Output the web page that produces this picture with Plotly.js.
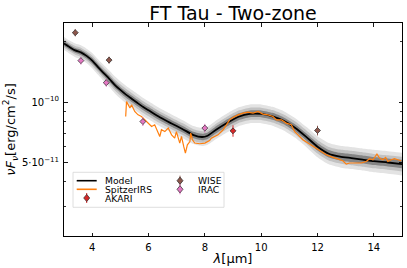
<!DOCTYPE html>
<html>
<head>
<meta charset="utf-8">
<script src="https://cdn.plot.ly/plotly-3.0.1.min.js"></script>
<style>html,body{margin:0;padding:0;background:#fff}</style>
</head>
<body>
<div id="plot" style="width:407px;height:268px"></div>
<script>
// ---- Model (best fit) ----
const modelX = [3.0,3.2,3.4,3.6,3.8,4.0,4.2,4.4,4.6,4.8,5.0,5.2,5.4,5.6,5.8,6.0,6.4,6.8,7.2,7.6,7.9,8.1,8.4,8.8,9.2,9.6,10.0,10.4,10.8,11.2,11.6,12.0,12.4,12.8,13.2,13.6,14.0,14.5,15.0];
const modelY = [1.96e-10,1.88e-10,1.81e-10,1.77e-10,1.70e-10,1.61e-10,1.50e-10,1.40e-10,1.31e-10,1.22e-10,1.15e-10,1.09e-10,1.04e-10,9.92e-11,9.47e-11,9.10e-11,8.40e-11,7.85e-11,7.35e-11,6.85e-11,6.70e-11,6.80e-11,7.28e-11,7.89e-11,8.45e-11,8.74e-11,8.74e-11,8.50e-11,8.07e-11,7.45e-11,6.71e-11,5.99e-11,5.53e-11,5.35e-11,5.26e-11,5.17e-11,5.08e-11,5.00e-11,4.91e-11];
// half-widths of the model spread bands (dex)
const bandOuterDex = [0.033,0.033,0.034,0.035,0.036,0.038,0.039,0.040,0.041,0.042,0.043,0.044,0.044,0.045,0.045,0.045,0.045,0.045,0.045,0.045,0.045,0.045,0.046,0.047,0.047,0.047,0.047,0.047,0.048,0.049,0.050,0.052,0.053,0.054,0.055,0.055,0.056,0.056,0.057];
const bandMidDex   = [0.021,0.021,0.022,0.023,0.023,0.025,0.025,0.026,0.027,0.027,0.028,0.029,0.029,0.029,0.029,0.029,0.029,0.029,0.029,0.029,0.029,0.029,0.030,0.031,0.031,0.031,0.031,0.031,0.031,0.032,0.033,0.034,0.034,0.035,0.036,0.036,0.036,0.036,0.037];
const bandInnerDex = [0.012,0.012,0.012,0.013,0.013,0.014,0.014,0.014,0.015,0.015,0.015,0.016,0.016,0.016,0.016,0.016,0.016,0.016,0.016,0.016,0.016,0.016,0.017,0.017,0.017,0.017,0.017,0.017,0.017,0.018,0.018,0.019,0.019,0.019,0.020,0.020,0.020,0.020,0.021];

// ---- Spitzer IRS spectrum ----
const irsX = [5.19,5.22,5.34,5.40,5.51,5.63,5.75,5.87,5.99,6.11,6.22,6.34,6.40,6.46,6.58,6.70,6.82,6.93,6.99,7.11,7.17,7.25,7.31,7.38,7.47,7.50,7.56,7.64,7.82,8.00,8.17,8.23,8.47,8.65,8.77,8.88,9.00,9.18,9.36,9.53,9.71,9.89,10.06,10.24,10.42,10.54,10.72,10.89,11.07,11.19,11.31,11.48,11.66,11.84,12.07,12.31,12.55,12.72,12.90,13.02,13.14,13.38,13.55,13.73,13.85,13.97,14.11,14.20,14.32,14.42,14.50,14.62,14.73,14.85,14.97];
const irsY = [8.48e-11,10.07e-11,9.34e-11,9.69e-11,8.98e-11,8.64e-11,8.48e-11,8.16e-11,7.86e-11,7.56e-11,7.71e-11,7.13e-11,6.74e-11,7.28e-11,7.13e-11,7.42e-11,6.87e-11,6.61e-11,7.13e-11,6.25e-11,6.74e-11,6.01e-11,5.57e-11,6.12e-11,6.36e-11,7.00e-11,6.49e-11,6.25e-11,6.20e-11,6.25e-11,6.43e-11,6.61e-11,6.87e-11,7.28e-11,7.71e-11,8.16e-11,8.38e-11,8.64e-11,8.81e-11,8.92e-11,8.81e-11,8.98e-11,8.71e-11,8.64e-11,8.48e-11,8.16e-11,8.16e-11,7.86e-11,7.71e-11,7.13e-11,6.87e-11,6.49e-11,6.25e-11,6.01e-11,5.72e-11,5.46e-11,5.30e-11,5.22e-11,5.10e-11,4.91e-11,4.97e-11,4.97e-11,4.97e-11,5.06e-11,5.22e-11,5.16e-11,5.51e-11,5.26e-11,5.16e-11,5.30e-11,5.06e-11,5.16e-11,5.22e-11,5.16e-11,5.10e-11];

// ---- Photometry ----
const akariX = [9.0];
const akariY = [7.19e-11];
const akariErr = [0.47e-11];
const wiseX = [3.4, 4.6, 12.0];
const wiseY = [2.22e-10, 1.62e-10, 7.22e-11];
const wiseErr = [0.09e-10, 0.065e-10, 0.40e-11];
const iracX = [3.6, 4.5, 5.8, 8.0];
const iracY = [1.61e-10, 1.25e-10, 8.0e-11, 7.42e-11];
const iracErr = [0.072e-10, 0.056e-10, 0.40e-11, 0.37e-11];

// ---- Axis ticks ----
const xTicks = [4, 6, 8, 10, 12, 14];
const yTickVals = [5e-11, 1e-10];
const yTickText = ['5·10<sup>−11</sup>', '10<sup>−10</sup>'];
const yMinorVals = [3e-11, 4e-11, 6e-11, 7e-11, 8e-11, 9e-11, 2e-10];

const legendLabels = ['Model', 'SpitzerIRS', 'AKARI', 'WISE', 'IRAC'];

const C_ORANGE = '#ff7f0e', C_RED = '#d62728', C_BROWN = '#8c564b', C_PINK = '#e377c2';
const FONT = 'DejaVu Sans';

function scaleBand(vals, dex, sign) { return vals.map((v, i) => v * Math.pow(10, sign * dex[i])); }

const traces = [];
const bands = [[bandOuterDex, '#e3e3e3'], [bandMidDex, '#c2c2c2'], [bandInnerDex, '#858585']];
bands.forEach(([dex, col]) => {
  traces.push({x: modelX, y: scaleBand(modelY, dex, 1), type: 'scatter', mode: 'lines',
    line: {width: 0, shape: 'spline', smoothing: 0.6}, hoverinfo: 'skip', showlegend: false});
  traces.push({x: modelX, y: scaleBand(modelY, dex, -1), type: 'scatter', mode: 'lines',
    line: {width: 0, shape: 'spline', smoothing: 0.6}, fill: 'tonexty', fillcolor: col,
    hoverinfo: 'skip', showlegend: false});
});
traces.push({x: modelX, y: modelY, type: 'scatter', mode: 'lines', name: legendLabels[0],
  line: {color: 'black', width: 1.8, shape: 'spline', smoothing: 0.6}, showlegend: false});
traces.push({x: irsX, y: irsY, type: 'scatter', mode: 'lines', name: legendLabels[1],
  line: {color: C_ORANGE, width: 1.2}, showlegend: false});

function photo(x, y, err, col, name) {
  return {x: x, y: y, type: 'scatter', mode: 'markers', name: name, showlegend: false,
    error_y: {type: 'data', array: err, visible: true, color: col, thickness: 1, width: 0},
    marker: {symbol: 'diamond', size: 4.6, color: col, line: {color: '#2a2a2a', width: 0.7}}};
}
traces.push(photo(akariX, akariY, akariErr, C_RED, legendLabels[2]));
traces.push(photo(wiseX, wiseY, wiseErr, C_BROWN, legendLabels[3]));
traces.push(photo(iracX, iracY, iracErr, C_PINK, legendLabels[4]));

// ---- hand-drawn legend (matplotlib style, 2 columns) ----
const L = 64, R = 402, T = 23, B = 236;
const fx = px => (px - L) / (R - L);
const fy = py => (B - py) / (B - T);
const rows = [180.7, 189.3, 198.0];
const shapes = [
  {type: 'rect', xref: 'paper', yref: 'paper', x0: fx(73), x1: fx(224), y0: fy(207.3), y1: fy(172.3),
   line: {color: '#d5d5d5', width: 0.8}, fillcolor: 'rgba(255,255,255,0.85)', layer: 'above'},
  {type: 'line', xref: 'paper', yref: 'paper', x0: fx(76.7), x1: fx(96.7), y0: fy(rows[0]), y1: fy(rows[0]),
   line: {color: 'black', width: 1.6}, layer: 'above'},
  {type: 'line', xref: 'paper', yref: 'paper', x0: fx(76.7), x1: fx(96.7), y0: fy(rows[1]), y1: fy(rows[1]),
   line: {color: C_ORANGE, width: 1.6}, layer: 'above'}
];
function legMarker(px, py, col) {
  shapes.push({type: 'line', xref: 'paper', yref: 'paper', xsizemode: 'pixel', ysizemode: 'pixel',
    xanchor: fx(px), yanchor: fy(py), x0: 0, x1: 0, y0: -5, y1: 5, line: {color: col, width: 1}, layer: 'above'});
  shapes.push({type: 'path', xref: 'paper', yref: 'paper', xsizemode: 'pixel', ysizemode: 'pixel',
    xanchor: fx(px), yanchor: fy(py), path: 'M-3,0L0,3.6L3,0L0,-3.6Z', fillcolor: col,
    line: {color: '#2a2a2a', width: 0.7}, layer: 'above'});
}
legMarker(86.7, rows[2], C_RED);
legMarker(180, rows[0], C_BROWN);
legMarker(180, rows[1], C_PINK);

const annotations = [];
function legText(px, py, t) {
  annotations.push({xref: 'paper', yref: 'paper', x: fx(px), y: fy(py), xanchor: 'left', yanchor: 'middle',
    text: t, showarrow: false, borderpad: 0,
    font: {family: FONT, size: 9.2, color: 'black'}});
}
legText(103.5, rows[0], legendLabels[0]);
legText(103.5, rows[1], legendLabels[1]);
legText(103.5, rows[2], legendLabels[2]);
legText(196.5, rows[0], legendLabels[3]);
legText(196.5, rows[1], legendLabels[4]);

const layout = {
  width: 407, height: 268,
  margin: {l: L, r: 407 - R, t: T, b: 268 - B, pad: 0},
  paper_bgcolor: 'white', plot_bgcolor: 'white',
  font: {family: FONT, size: 10, color: 'black'},
  showlegend: false,
  title: {text: 'FT Tau - Two-zone', font: {family: FONT, size: 19, color: 'black'},
          xref: 'paper', x: 0.5, xanchor: 'center', yref: 'container', y: 0.952, yanchor: 'middle'},
  xaxis: {range: [3, 15], tickmode: 'array', tickvals: xTicks, ticks: 'inside', ticklen: 3.5, tickwidth: 0.9,
          tickcolor: 'black', showline: true, linecolor: 'black', linewidth: 1, mirror: 'ticks',
          showgrid: false, zeroline: false, tickfont: {family: FONT, size: 10}, ticklabelstandoff: 2,
          title: {text: '<i>λ</i>[μm]', font: {family: FONT, size: 13}, standoff: 1}},
  yaxis: {type: 'log', range: [Math.log10(2.15e-11), Math.log10(2.48e-10)], tickmode: 'array',
          tickvals: yTickVals, ticktext: yTickText, ticks: 'inside', ticklen: 3.5, tickwidth: 0.9,
          tickcolor: 'black', showline: true, linecolor: 'black', linewidth: 1, mirror: 'ticks',
          showgrid: false, zeroline: false, tickfont: {family: FONT, size: 10}, ticklabelstandoff: 2,
          minor: {tickmode: 'array', tickvals: yMinorVals, ticks: 'inside', ticklen: 2, tickwidth: 0.8, tickcolor: 'black', showgrid: false},
          title: {text: '<i>νF</i><sub><i>ν</i></sub>[erg/cm<sup>2</sup>/s]', font: {family: FONT, size: 13}, standoff: 3}},
  shapes: shapes,
  annotations: annotations
};

Plotly.newPlot('plot', traces, layout, {staticPlot: true, displayModeBar: false});
</script>
</body>
</html>
